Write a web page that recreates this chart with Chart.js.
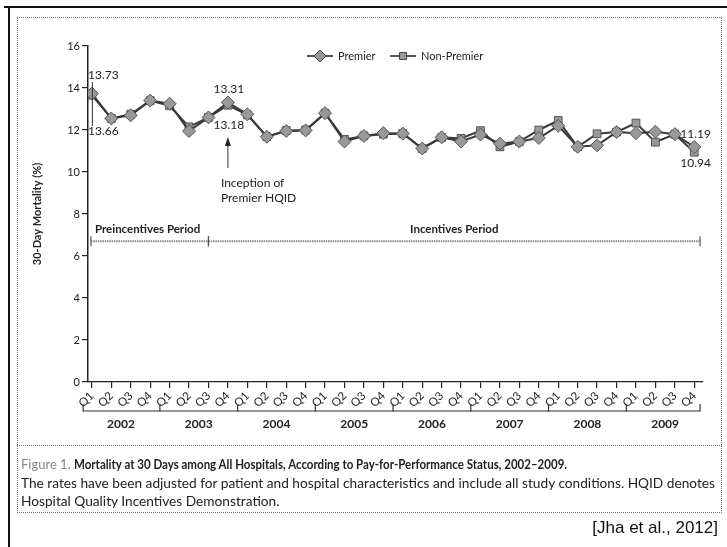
<!DOCTYPE html>
<html>
<head>
<meta charset="utf-8">
<script src="https://cdn.jsdelivr.net/npm/chart.js@4.4.1/dist/chart.umd.min.js"></script>
<style>
  html, body { margin:0; padding:0; background:#fff; }
  body { width:727px; height:547px; position:relative; overflow:hidden; font-family: Lato, "Open Sans", sans-serif; }
  #wrap { position:absolute; left:0; top:0; width:727px; height:547px; }
  .outerTop { position:absolute; left:4px; top:6px; width:723px; height:2px; background:#111; }
  .outerLeft { position:absolute; left:8px; top:6px; width:2px; height:541px; background:#111; }
  .box { position:absolute; left:17px; top:17px; width:703px; height:494px; border:1px dotted #777; }
  .sep { position:absolute; left:17px; top:445px; width:705px; height:0; border-top:1px dotted #777; }
  .cap { position:absolute; left:21px; color:#222; font-family: Lato, "Open Sans", sans-serif; font-size:13.7px; white-space:nowrap; }
  .cap1 { top:455px; }
  .cap1 .fig { color:#888; font-size:13px; }
  .cap1 b { font-weight:700; font-size:12.8px; display:inline-block; transform:scaleX(0.9); transform-origin:0 50%; }
  .cap2 { top:474px; }
  .cap3 { top:492px; }
  .cite { position:absolute; right:9px; top:518px; font-family:"Liberation Sans", Arial, sans-serif; font-size:17px; color:#111; }
</style>
</head>
<body>
<div id="wrap"><canvas id="c" width="727" height="547"></canvas></div>
<div class="outerTop"></div>
<div class="outerLeft"></div>
<div class="box"></div>
<div class="sep"></div>
<div class="cap cap1"><span class="fig">Figure 1.</span> <b>Mortality at 30 Days among All Hospitals, According to Pay-for-Performance Status, 2002–2009.</b></div>
<div class="cap cap2">The rates have been adjusted for patient and hospital characteristics and include all study conditions. HQID denotes</div>
<div class="cap cap3">Hospital Quality Incentives Demonstration.</div>
<div class="cite">[Jha et al., 2012]</div>
<script>
// ---- data ----
const years = ['2002','2003','2004','2005','2006','2007','2008','2009'];
const quarterNames = ['Q1','Q2','Q3','Q4'];
const categories = years.flatMap(y => quarterNames.map(q => q + ' ' + y));
const premier = [13.73, 12.55, 12.70, 13.40, 13.25, 11.95, 12.60, 13.31,
                 12.75, 11.68, 11.95, 11.98, 12.80, 11.45, 11.72, 11.85,
                 11.83, 11.12, 11.65, 11.45, 11.78, 11.35, 11.45, 11.62,
                 12.20, 11.20, 11.27, 11.90, 11.85, 11.92, 11.80, 11.19];
const nonPremier = [13.66, 12.55, 12.75, 13.40, 13.15, 12.15, 12.60, 13.18,
                    12.72, 11.68, 11.97, 12.00, 12.80, 11.55, 11.72, 11.80,
                    11.83, 11.12, 11.65, 11.60, 11.97, 11.20, 11.45, 12.00,
                    12.45, 11.20, 11.82, 11.90, 12.33, 11.42, 11.80, 10.94];
const yTicks = [0, 2, 4, 6, 8, 10, 12, 14, 16];
const seriesNames = ['Premier', 'Non-Premier'];
const periods = [
  { label: 'Preincentives Period', from: -0.05, to: 6.0 },
  { label: 'Incentives Period', from: 6.0, to: 31.3 }
];
const inceptionIndex = 7;

const FONT = 'Lato, "Open Sans", sans-serif';
const INK = '#222';

const pts = arr => arr.map((v, i) => ({ x: i, y: v }));

const extras = {
  id: 'extras',
  afterDraw(chart) {
    const ctx = chart.ctx;
    const xs = chart.scales.x, ys = chart.scales.y;
    const X = v => xs.getPixelForValue(v), Y = v => ys.getPixelForValue(v);
    ctx.save();
    ctx.fillStyle = INK; ctx.strokeStyle = INK;

    // legend
    const leg = [{ x: 320, ds: 0, tx: 338 }, { x: 403, ds: 1, tx: 421 }];
    const ly = 56;
    leg.forEach(l => {
      const ds = chart.data.datasets[l.ds];
      ctx.strokeStyle = '#444'; ctx.lineWidth = 1.8;
      ctx.beginPath(); ctx.moveTo(l.x - 13, ly); ctx.lineTo(l.x + 13, ly); ctx.stroke();
      ctx.fillStyle = ds.backgroundColor; ctx.strokeStyle = '#444'; ctx.lineWidth = 1;
      Chart.helpers.drawPoint(ctx, { pointStyle: ds.pointStyle, radius: ds.pointRadius - 0.5, rotation: 0, borderWidth: 1 }, l.x, ly);
      ctx.fillStyle = INK; ctx.font = '11px ' + FONT; ctx.textAlign = 'left'; ctx.textBaseline = 'middle';
      ctx.fillText(seriesNames[l.ds], l.tx, ly);
    });

    // value annotations
    ctx.font = '12px ' + FONT; ctx.fillStyle = INK; ctx.textBaseline = 'middle';
    ctx.textAlign = 'left';
    ctx.fillText(premier[0].toFixed(2), X(-0.2), 75);
    ctx.fillText(nonPremier[0].toFixed(2), X(-0.2), 131);
    ctx.strokeStyle = '#333'; ctx.lineWidth = 1;
    ctx.beginPath(); ctx.moveTo(X(0) + 0.5, 82); ctx.lineTo(X(0) + 0.5, 126); ctx.stroke();
    ctx.textAlign = 'center';
    ctx.fillText(premier[inceptionIndex].toFixed(2), X(inceptionIndex) + 1, 89);
    ctx.fillText(nonPremier[inceptionIndex].toFixed(2), X(inceptionIndex) + 1, 125);
    ctx.textAlign = 'left';
    ctx.fillText(premier[31].toFixed(2), X(31) - 14, 134);
    ctx.fillText(nonPremier[31].toFixed(2), X(31) - 14, 163);

    // inception arrow
    const ax = X(inceptionIndex);
    ctx.beginPath(); ctx.moveTo(ax, 168); ctx.lineTo(ax, 142); ctx.stroke();
    ctx.beginPath(); ctx.moveTo(ax, 137); ctx.lineTo(ax - 3, 146); ctx.lineTo(ax + 3, 146); ctx.closePath(); ctx.fill();
    ctx.font = '12px ' + FONT; ctx.textAlign = 'left';
    ctx.fillText('Inception of', ax - 7, 183);
    ctx.fillText('Premier HQID', ax - 7, 198);

    // periods
    const py = Y(6.7);
    periods.forEach((p, i) => {
      ctx.strokeStyle = '#8a8a8a'; ctx.lineWidth = 2;
      ctx.setLineDash([1.5, 0.8]);
      ctx.beginPath(); ctx.moveTo(X(p.from), py); ctx.lineTo(X(p.to), py); ctx.stroke();
      ctx.setLineDash([]);
      ctx.strokeStyle = '#555'; ctx.lineWidth = 1.2;
      [p.from, p.to].forEach(v => { ctx.beginPath(); ctx.moveTo(X(v), py - 5); ctx.lineTo(X(v), py + 5); ctx.stroke(); });
      ctx.fillStyle = INK; ctx.font = 'bold 11.5px ' + FONT; ctx.textBaseline = 'middle';
      if (i === 0) { ctx.textAlign = 'left'; ctx.fillText(p.label, X(p.from) + 4, Y(7.25)); }
      else { ctx.textAlign = 'center'; ctx.fillText(p.label, (X(p.from) + X(p.to)) / 2, Y(7.25)); }
    });

    // year brackets
    const by = 411;
    ctx.strokeStyle = '#333'; ctx.lineWidth = 1.2;
    ctx.beginPath(); ctx.moveTo(X(-0.45), by); ctx.lineTo(X(31.3), by); ctx.stroke();
    for (let k = 0; k <= years.length; k++) {
      const v = k === 0 ? -0.45 : (k === years.length ? 31.3 : k * 4 - 0.5);
      ctx.beginPath(); ctx.moveTo(X(v), by - 7); ctx.lineTo(X(v), by + 0.5); ctx.stroke();
    }
    ctx.fillStyle = INK; ctx.font = 'bold 12px ' + FONT; ctx.textAlign = 'center'; ctx.textBaseline = 'middle';
    years.forEach((y, k) => ctx.fillText(y, X(k * 4 + 1.5), 424));
    ctx.restore();
  }
};

new Chart(document.getElementById('c'), {
  type: 'line',
  data: {
    datasets: [
      { label: seriesNames[0], data: pts(premier), borderColor: '#3a3a3a', borderWidth: 2,
        backgroundColor: '#999', pointBackgroundColor: '#999', pointBorderColor: '#555', pointBorderWidth: 1,
        pointStyle: 'rectRot', pointRadius: 6.5, tension: 0 },
      { label: seriesNames[1], data: pts(nonPremier), borderColor: '#3a3a3a', borderWidth: 2,
        backgroundColor: '#999', pointBackgroundColor: '#999', pointBorderColor: '#555', pointBorderWidth: 1,
        pointStyle: 'rect', pointRadius: 5.5, tension: 0 }
    ]
  },
  options: {
    responsive: false, animation: false,
    layout: { padding: { top: 46, left: 20, right: 24, bottom: 133 } },
    plugins: { legend: { display: false }, tooltip: { enabled: false } },
    scales: {
      x: {
        type: 'linear', min: -0.2, max: 31.45,
        afterBuildTicks: s => { s.ticks = categories.map((c, i) => ({ value: i })); },
        afterFit: s => { s.height = 32; },
        ticks: { autoSkip: false, minRotation: 45, maxRotation: 45, padding: 1, color: INK,
                 font: { family: FONT, size: 11.5 },
                 callback: v => categories[v] ? categories[v].split(' ')[0] : '' },
        grid: { drawOnChartArea: false, tickLength: 6, color: '#222', lineWidth: 1.2 },
        border: { display: true, color: '#222', width: 1.2 }
      },
      y: {
        min: 0, max: 16,
        afterBuildTicks: s => { s.ticks = yTicks.map(v => ({ value: v })); },
        afterFit: s => { s.width = 68; },
        ticks: { color: INK, padding: 2, font: { family: FONT, size: 11 } },
        grid: { drawOnChartArea: false, tickLength: 6, color: '#222', lineWidth: 1.2 },
        border: { display: true, color: '#222', width: 1.5 },
        title: { display: true, text: '30-Day Mortality (%)', color: INK,
                 font: { family: FONT, size: 11, weight: 'bold' }, padding: { top: 11, bottom: 4 } }
      }
    }
  },
  plugins: [extras]
});
</script>
</body>
</html>
